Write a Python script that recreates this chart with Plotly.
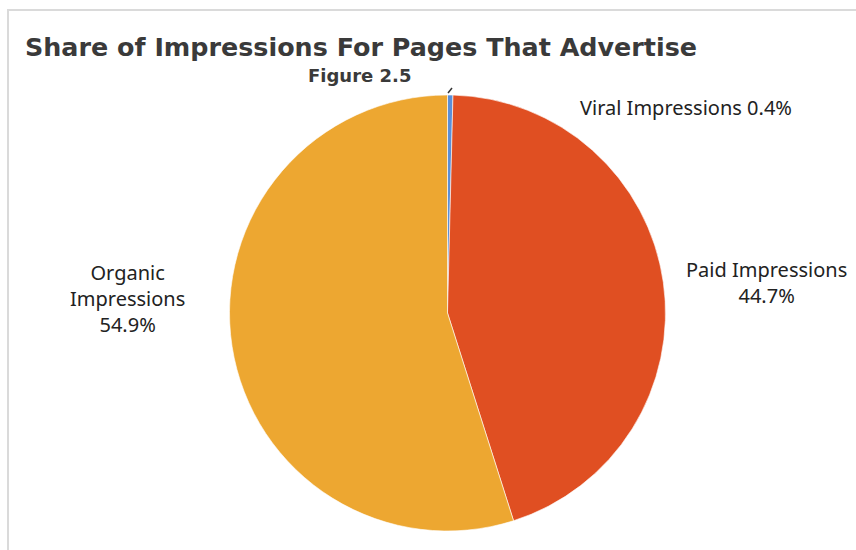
import plotly.graph_objects as go

labels = ["Viral Impressions", "Paid Impressions", "Organic Impressions"]
values = [0.4, 44.7, 54.9]
colors = ["#5B8FD8", "#E04F22", "#EDA731"]
label_texts = ["Viral Impressions 0.4%", "Paid Impressions<br>44.7%", "Organic<br>Impressions<br>54.9%"]

W, H = 856, 550
fig = go.Figure()
fig.add_trace(go.Pie(
    labels=labels, values=values, sort=False, direction="clockwise", rotation=0,
    marker=dict(colors=colors, line=dict(color="rgba(255,255,255,0.6)", width=1)),
    textinfo="none", hoverinfo="label+percent", showlegend=False,
    domain=dict(x=[229/W, 666/W], y=[1-531/H, 1-95/H]),
))

label_pos = [(686, 107, "center"), (766, 282, "center"), (128, 298, "center")]
for t, (x, y, al) in zip(label_texts, label_pos):
    fig.add_annotation(x=x/W, y=1-y/H, xref="paper", yref="paper", text=t, showarrow=False,
                       align=al, xanchor="center", yanchor="middle",
                       font=dict(family="Noto Sans", size=20, color="#222"))

# leader tick for viral
fig.add_shape(type="line", xref="paper", yref="paper", x0=448/W, y0=1-93/H, x1=452/W, y1=1-88/H,
              line=dict(color="#333", width=1.5))

# frame
fig.add_shape(type="rect", xref="paper", yref="paper", x0=8/W, y0=-0.1, x1=1.1, y1=1-10/H,
              line=dict(color="#DADADA", width=2), layer="below")

fig.add_annotation(x=361/W, y=1-47/H, xref="paper", yref="paper", showarrow=False,
                   text="<b>Share of Impressions For Pages That Advertise</b>",
                   font=dict(family="DejaVu Sans", size=25.4, color="#3a3a3a"),
                   xanchor="center", yanchor="middle")
fig.add_annotation(x=359/W, y=1-75/H, xref="paper", yref="paper", showarrow=False,
                   text="<b>Figure 2.5</b>",
                   font=dict(family="DejaVu Sans", size=18, color="#3a3a3a"),
                   xanchor="center", yanchor="middle")

fig.update_layout(width=W, height=H, margin=dict(l=0, r=0, t=0, b=0),
                  paper_bgcolor="white", plot_bgcolor="white")
fig.write_html("out.html")
